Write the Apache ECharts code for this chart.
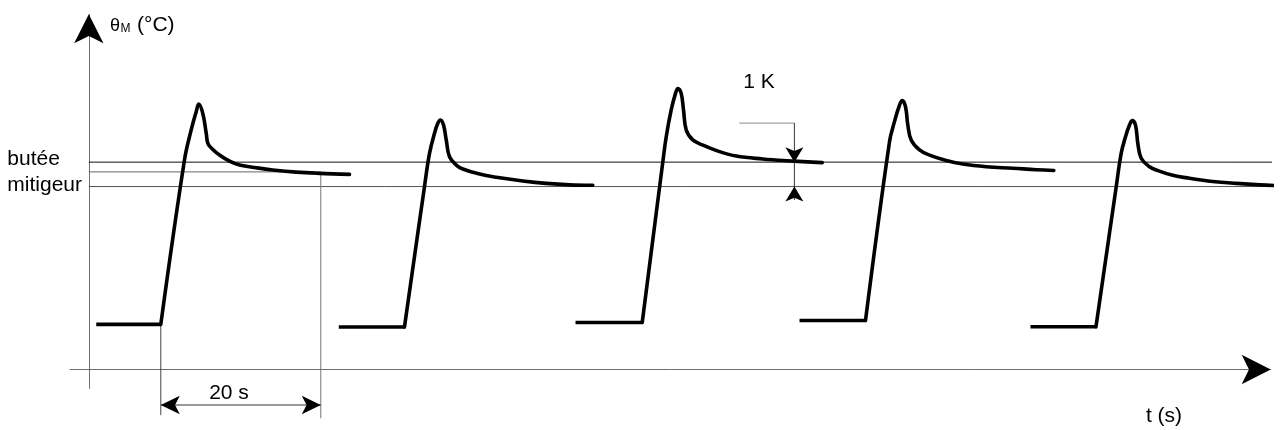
<!DOCTYPE html>
<html lang="fr">
<head>
<meta charset="utf-8">
<title>θM (°C) – t (s)</title>
<script src="https://cdn.jsdelivr.net/npm/echarts@6.0.0/dist/echarts.min.js"></script>
<style>
html, body { margin: 0; padding: 0; background: #fff; }
#chart { width: 1286px; height: 430px; }
</style>
</head>
<body>
<div id="chart"></div>
<script>
// Mixed-water temperature θM over five successive draw-offs.
// t in seconds, θ in kelvin above the time axis.

const tAxisRange = [-2.35, 147.74];
const thetaAxisRange = [-0.77, 14.56];

// Each draw-off: cold plateau (first two points), then rise, overshoot and settling.
const pulse1 = [[0.93, 1.85], [9.0, 1.85], [11.96, 8.59], [12.8, 9.82], [13.43, 10.57],
  [13.75, 10.88], [14.25, 10.5], [14.68, 9.68], [14.88, 9.27],
  [15.34, 9.07], [16.34, 8.79], [17.59, 8.54], [18.84, 8.38], [20.93, 8.27], [23.0, 8.18],
  [25.93, 8.09], [28.84, 8.04], [32.59, 8.0]];

const pulse2 = [[31.25, 1.74], [39.46, 1.74], [41.96, 7.49], [42.59, 8.86],
  [43.21, 9.68], [43.63, 10.09], [43.96, 10.23], [44.34, 10.02], [44.68, 9.41], [45.09, 8.72],
  [45.93, 8.38], [46.75, 8.22], [48.84, 8.01], [50.93, 7.88], [54.25, 7.73], [57.18, 7.63],
  [60.09, 7.57], [63.0, 7.55]];

const pulse3 = [[60.84, 1.93], [69.18, 1.93], [71.75, 8.5], [72.18, 9.54],
  [72.8, 10.64], [73.34, 11.32], [73.63, 11.52], [74.05, 11.32], [74.34, 10.64], [74.68, 9.82],
  [75.5, 9.41], [76.75, 9.2], [78.84, 8.93], [80.93, 8.75], [84.25, 8.63], [87.18, 8.56],
  [91.68, 8.48]];

const pulse4 = [[88.84, 2.01], [97.09, 2.01], [100.09, 9.34],
  [100.71, 10.16], [101.34, 10.84], [101.68, 11.02], [102.09, 10.77], [102.38, 10.02], [102.8, 9.41],
  [103.84, 9.0], [105.09, 8.79], [107.18, 8.57], [109.25, 8.42], [112.18, 8.31], [115.5, 8.25],
  [118.43, 8.19], [120.63, 8.16]];

const pulse5 = [[117.71, 1.75], [125.9, 1.75], [128.43, 7.49], [129.05, 8.86],
  [129.59, 9.54], [130.09, 10.02], [130.43, 10.2], [130.84, 10.02], [131.13, 9.27], [131.55, 8.66],
  [132.59, 8.31], [133.43, 8.18], [135.5, 7.96], [137.59, 7.84], [140.5, 7.71], [143.43, 7.63],
  [146.34, 7.57], [149.46, 7.53]];

// Thermostat stop level and the level 1 K above it
const stopLine = [[0, 7.5], [149.6, 7.5]];
const stopPlus1KLine = [[0, 8.5], [148.3, 8.5]];
// Level reached 20 s after the start of the first draw-off
const readLine = [[0, 8.1], [29, 8.1]];

// 20 s dimension
const startMark = [[9, 1.85], [9, -1.87]];
const endMark = [[29, 8.1], [29, -2.0]];
const spanArrow = [[9, -1.455], [29, -1.455]];

// 1 K dimension
const stepLeader = [[81.3, 10.1], [88.2, 10.1]];
const stepStem = [[88.2, 10.1], [88.2, 6.95]];
const stepTips = [[88.2, 8.5], [88.2, 7.5]];

const axisTips = [[tAxisRange[1], 0], [0, thetaAxisRange[1]]];

const stopLabel = ['butée', 'mitigeur'];
const thetaLabel = ['θ', 'M', '(°C)'];
const timeLabel = 't (s)';
const spanLabel = '20 s';
const stepLabel = '1 K';

const FONT = '"Liberation Sans", Arial, Helvetica, sans-serif';

// Plateau drawn straight, the response drawn as a smooth curve
function pulseSeries(data) {
  return [
    {
      type: 'line', data: data.slice(0, 2), symbol: 'none', clip: false, silent: true, animation: false, z: 5,
      lineStyle: { color: '#000', width: 3.6, cap: 'butt' },
      emphasis: { disabled: true }
    },
    {
      type: 'line', data: data.slice(1), symbol: 'none', clip: false, silent: true, animation: false, z: 5,
      smooth: 0.4,
      lineStyle: { color: '#000', width: 3.6, join: 'round', cap: 'round' },
      emphasis: { disabled: true }
    }
  ];
}

function segment(data, color, width) {
  return {
    type: 'line', data, symbol: 'none', clip: false, silent: true, animation: false, z: 3,
    lineStyle: { color, width: width || 1 },
    emphasis: { disabled: true }
  };
}

function arrowHeads(points, rotations, size) {
  return {
    type: 'scatter', clip: false, silent: true, animation: false, z: 6,
    symbol: 'arrow', symbolSize: size,
    itemStyle: { color: '#000', borderWidth: 0, opacity: 1 },
    emphasis: { disabled: true },
    data: points.map((p, i) => ({ value: p, symbolRotate: rotations[i] }))
  };
}

function text(str, x, y, size, align) {
  const a = align || 'left';
  return {
    type: 'text', x, y, silent: true, z: 10,
    style: {
      text: str, fontSize: size, fontFamily: FONT, fill: '#000',
      textAlign: a, align: a, textVerticalAlign: 'middle', verticalAlign: 'middle'
    }
  };
}

const chart = echarts.init(document.getElementById('chart'), null, { renderer: 'canvas' });

chart.setOption({
  animation: false,
  backgroundColor: '#fff',
  grid: { left: 70, right: 15.3, top: 14.3, bottom: 41.7, containLabel: false, outerBoundsMode: 'none' },
  xAxis: {
    type: 'value', min: tAxisRange[0], max: tAxisRange[1],
    axisLine: { show: true, onZero: true, lineStyle: { color: '#6e6e6e', width: 1 } },
    axisTick: { show: false }, axisLabel: { show: false }, splitLine: { show: false }
  },
  yAxis: {
    type: 'value', min: thetaAxisRange[0], max: thetaAxisRange[1],
    axisLine: { show: true, onZero: true, lineStyle: { color: '#6e6e6e', width: 1 } },
    axisTick: { show: false }, axisLabel: { show: false }, splitLine: { show: false }
  },
  series: [
    segment(stopLine, '#555'),
    segment(stopPlus1KLine, '#111'),
    segment(readLine, '#666'),
    segment(startMark, '#444'),
    segment(endMark, '#777'),
    segment(spanArrow, '#333'),
    segment(stepLeader, '#888'),
    segment(stepStem, '#333'),
    ...pulseSeries(pulse1),
    ...pulseSeries(pulse2),
    ...pulseSeries(pulse3),
    ...pulseSeries(pulse4),
    ...pulseSeries(pulse5),
    arrowHeads(spanArrow, [90, -90], [14, 19]),
    arrowHeads(stepTips, [180, 0], [13.5, 15]),
    arrowHeads(axisTips, [-90, 0], [22, 29])
  ],
  graphic: [
    text(stopLabel[0], 7.3, 159.7, 21),
    text(stopLabel[1], 7.3, 185.3, 21),
    text(thetaLabel[0], 110, 26.4, 18),
    text(thetaLabel[1], 120.5, 29.1, 12),
    text(thetaLabel[2], 137, 25.4, 21),
    text(spanLabel, 229, 393, 21, 'center'),
    text(stepLabel, 759, 82.4, 21, 'center'),
    text(timeLabel, 1164, 416.4, 21, 'center')
  ]
});
</script>
</body>
</html>
